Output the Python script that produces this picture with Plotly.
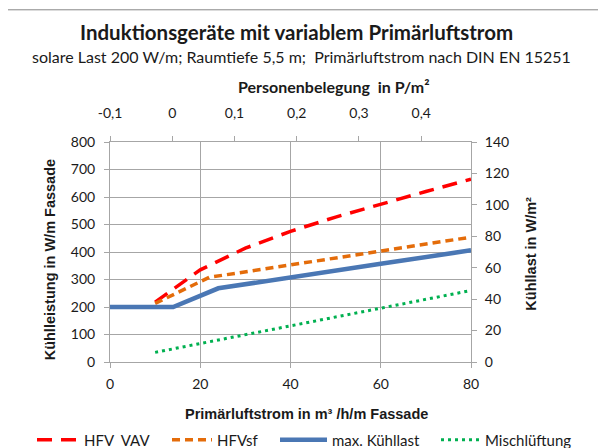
import plotly.graph_objects as go

# ---- data ----
vav_x = [10, 20, 30, 40, 50, 60, 70, 80]
vav_y = [218, 335, 414, 475, 527, 575, 620, 665]

sf_x = [10, 22, 40, 60, 80]
sf_y = [213, 308, 353, 403, 454]

max_x = [0, 14, 24, 40, 60, 80]
max_y = [200, 200, 268, 309, 357, 406]

misch_x = [10, 20, 30, 40, 50, 60, 70, 80]
misch_y = [35, 67, 99, 131, 163, 195, 228, 260]

x_ticks = [0, 20, 40, 60, 80]
y_ticks = [0, 100, 200, 300, 400, 500, 600, 700, 800]
y2_ticks = [0, 20, 40, 60, 80, 100, 120, 140]
top_vals = [-0.1, 0, 0.1, 0.2, 0.3, 0.4]
top_text = ["-0,1", "0", "0,1", "0,2", "0,3", "0,4"]

title = "Induktionsgeräte mit variablem Primärluftstrom"
subtitle = "solare Last 200 W/m; Raumtiefe 5,5 m;\u00a0 Primärluftstrom nach DIN EN 15251"

# ---- layout geometry (screen pixels; page body adds an 8px offset) ----
OFF = 8
W, H = 606 - OFF, 448 - OFF
L, R, T, B = 110, 471.5, 141.5, 362
pw, ph = R - L, B - T


def px(x):
    return (x - L) / pw


def py(y):
    return (B - y) / ph


def cx(x):
    return (x - OFF) / W


def cy(y):
    return (H - (y - OFF)) / H


FONT = "Lato"
ARIAL = "Liberation Sans"
GRID = "#a6a6a6"
TXT = "#1a1a1a"

fig = go.Figure()
fig.add_trace(go.Scatter(x=vav_x, y=vav_y, name="HFV\u00a0\u00a0VAV", mode="lines", legend="legend",
                         line=dict(color="#ff0000", width=3.5, dash="15px,9px")))
fig.add_trace(go.Scatter(x=sf_x, y=sf_y, name="HFVsf", mode="lines", legend="legend2",
                         line=dict(color="#e46c0a", width=3.5, dash="8px,5px")))
fig.add_trace(go.Scatter(x=max_x, y=max_y, name="max. Kühllast", mode="lines", legend="legend3",
                         line=dict(color="#4a77b4", width=4.5)))
fig.add_trace(go.Scatter(x=misch_x, y=misch_y, name="Mischlüftung", mode="lines", legend="legend4",
                         line=dict(color="#00b050", width=3, dash="3px,4px")))
# helper trace so secondary axes are drawn
fig.add_trace(go.Scatter(x=[top_vals[0]], y=[y2_ticks[0]], xaxis="x2", yaxis="y2",
                         mode="markers", marker=dict(opacity=0), showlegend=False,
                         hoverinfo="skip"))

ax_common = dict(zeroline=False, automargin=False, ticks="outside", ticklen=5,
                 tickcolor=GRID, showline=True, linecolor=GRID,
                 tickfont=dict(size=14, color=TXT))


def leg(x_sym, iw):
    return dict(orientation="h", xref="container", yref="container",
                x=cx(x_sym - 8), xanchor="left", y=cy(440), yanchor="middle",
                font=dict(size=15, color=TXT), itemwidth=iw, bgcolor="rgba(0,0,0,0)")


fig.update_layout(
    width=W, height=H,
    margin=dict(l=L - OFF, r=W - (R - OFF), t=T - OFF, b=H - (B - OFF), autoexpand=False),
    paper_bgcolor="white", plot_bgcolor="white",
    font=dict(family=FONT, size=14, color=TXT),
    showlegend=True,
    legend=leg(40, 42),
    legend2=leg(175, 40),
    legend3=leg(283, 47),
    legend4=leg(444, 39),
    xaxis=dict(range=[0, 80], tickvals=x_ticks, showgrid=True, gridcolor=GRID, gridwidth=1,
               ticklabelstandoff=4, **ax_common),
    yaxis=dict(range=[0, 800], tickvals=y_ticks, showgrid=True, gridcolor=GRID, gridwidth=1,
               ticklabelstandoff=6, **ax_common),
    xaxis2=dict(range=[-0.1, 0.48], tickvals=top_vals, ticktext=top_text, overlaying="x",
                side="top", anchor="y", showgrid=False, ticklabelstandoff=12, **ax_common),
    yaxis2=dict(range=[0, 140], tickvals=y2_ticks, overlaying="y", side="right", anchor="x",
                showgrid=False, ticklabelstandoff=5, **ax_common),
)

ann = [
    dict(text="<b>" + title + "</b>", x=297, y=31, size=20.5, fam=FONT, ang=0),
    dict(text=subtitle, x=302, y=56, size=16, fam=FONT, ang=0),
    dict(text="<b>Personenbelegung\u00a0\u00a0in P/m²</b>", x=334, y=86, size=16, fam=FONT, ang=0),
    dict(text="<b>Primärluftstrom in m³ /h/m Fassade</b>", x=307, y=414, size=14.5, fam=ARIAL, ang=0),
    dict(text="<b>Kühlleistung in W/m Fassade</b>", x=50, y=260, size=14.5, fam=ARIAL, ang=-90),
    dict(text="<b>Kühllast in W/m²</b>", x=532, y=253, size=14.5, fam=ARIAL, ang=-90),
]
for a in ann:
    fig.add_annotation(text=a["text"], x=px(a["x"]), y=py(a["y"]), xref="paper", yref="paper",
                       showarrow=False, xanchor="center", yanchor="middle", textangle=a["ang"],
                       font=dict(family=a["fam"], size=a["size"], color=TXT))

fig.add_shape(type="rect", xref="paper", yref="paper",
              x0=px(7), x1=px(600), y0=py(460), y1=py(9),
              line=dict(color="#868686", width=1), fillcolor="rgba(0,0,0,0)", layer="below")

fig.write_html("out.html")
